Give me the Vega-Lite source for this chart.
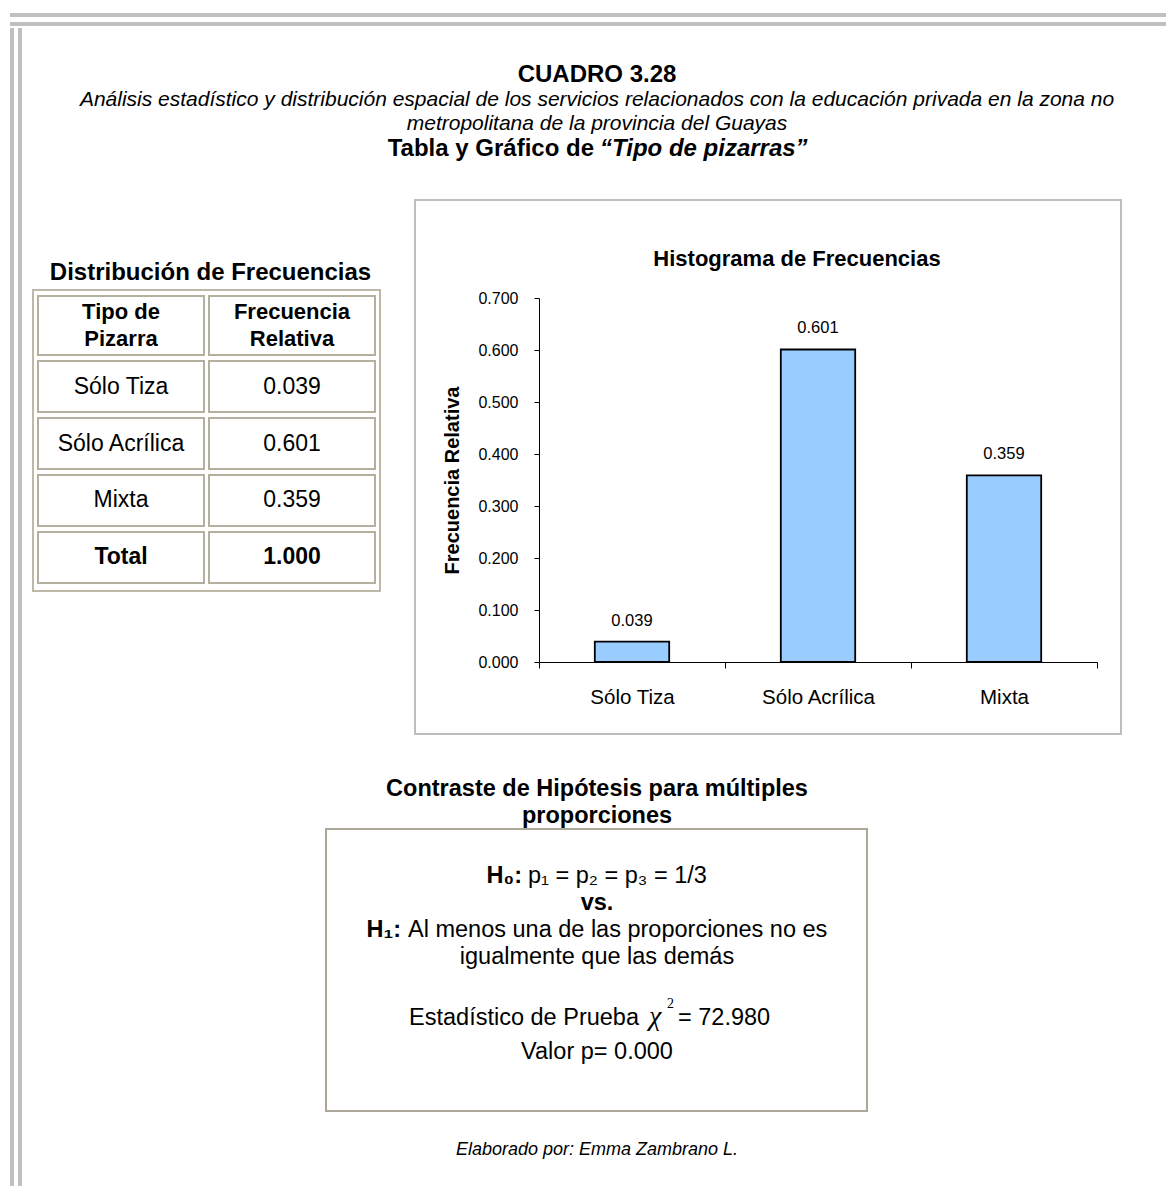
{
  "$schema": "https://vega.github.io/schema/vega-lite/v6.json",
  "padding": {"left": 8, "top": 13, "right": 0, "bottom": 0},
  "background": "white",
  "config": {
    "font": "Liberation Sans",
    "view": {"stroke": null},
    "text": {"color": "#000000"},
    "axis": {"labelFont": "Liberation Sans", "titleFont": "Liberation Sans"}
  },
  "datasets": {
    "tabla": [
      {"Tipo de Pizarra": "Sólo Tiza", "Frecuencia Relativa": 0.039},
      {"Tipo de Pizarra": "Sólo Acrílica", "Frecuencia Relativa": 0.601},
      {"Tipo de Pizarra": "Mixta", "Frecuencia Relativa": 0.359},
      {"Tipo de Pizarra": "Total", "Frecuencia Relativa": 1.0}
    ],
    "encabezado_tabla": [
      {"columna": "Tipo de Pizarra", "lineas": ["Tipo de", "Pizarra"]},
      {"columna": "Frecuencia Relativa", "lineas": ["Frecuencia", "Relativa"]}
    ],
    "marco": [{"linea": "exterior"}, {"linea": "interior"}]
  },
  "spacing": 0,
  "bounds": "full",
  "align": "each",
  "vconcat": [
    {
      "width": 1158,
      "height": 13,
      "data": {"name": "marco"},
      "mark": {"type": "rule", "color": "#C0C0C0", "strokeWidth": 4},
      "encoding": {
        "y": {"field": "linea", "type": "nominal", "scale": {"type": "point", "domain": ["exterior", "interior"], "range": [2, 11], "padding": 0}, "axis": null}
      }
    },
    {
      "spacing": 10,
      "bounds": "full",
      "align": "each",
      "hconcat": [
        {
          "width": 12,
          "height": 1160,
          "data": {"name": "marco"},
          "mark": {"type": "rule", "color": "#C0C0C0", "strokeWidth": 4},
          "encoding": {
            "x": {"field": "linea", "type": "nominal", "scale": {"type": "point", "domain": ["exterior", "interior"], "range": [2, 10], "padding": 0}, "axis": null}
          }
        },
        {
          "spacing": 0,
          "bounds": "full",
          "align": "each",
          "vconcat": [
            {
              "width": 1128,
              "height": 171,
              "encoding": {
                "y": {"field": "linea", "type": "nominal", "scale": {"type": "point", "domain": ["cuadro", "_1", "_2", "_3", "_4", "_5", "_6", "_7", "_8", "_9", "sub1", "_11", "_12", "_13", "_14", "_15", "_16", "_17", "_18", "_19", "sub2", "_21", "_22", "_23", "_24", "_25", "_26", "_27", "_28", "_29", "_30", "tabla"], "range": [53.5, 128], "padding": 0}, "axis": null},
                "text": {"field": "texto"}
              },
              "layer": [
                {
                  "data": {"values": [{"linea": "cuadro", "texto": "CUADRO 3.28"}]},
                  "mark": {"type": "text", "fontSize": 24, "fontWeight": "bold", "baseline": "alphabetic"}
                },
                {
                  "data": {"values": [
                    {"linea": "sub1", "texto": "Análisis estadístico y distribución espacial de los servicios relacionados con la educación privada en la zona no"},
                    {"linea": "sub2", "texto": "metropolitana de la provincia del Guayas"}
                  ]},
                  "mark": {"type": "text", "fontSize": 21, "fontStyle": "italic", "baseline": "alphabetic"}
                },
                {
                  "data": {"values": [{"linea": "tabla", "texto": "Tabla y Gráfico de"}]},
                  "mark": {"type": "text", "fontSize": 24, "fontWeight": "bold", "baseline": "alphabetic", "align": "right", "dx": -3}
                },
                {
                  "data": {"values": [{"linea": "tabla", "texto": "“Tipo de pizarras”"}]},
                  "mark": {"type": "text", "fontSize": 24, "fontWeight": "bold", "fontStyle": "italic", "baseline": "alphabetic", "align": "left", "dx": 3}
                }
              ]
            },
            {
              "spacing": 33,
              "bounds": "full",
              "align": "each",
              "hconcat": [
                {
                  "spacing": 0,
                  "bounds": "flush",
                  "align": "each",
                  "vconcat": [
                    {
                      "width": 347,
                      "height": 90,
                      "data": {"values": [{"titulo": "Distribución de Frecuencias"}]},
                      "mark": {"type": "text", "fontSize": 24, "fontWeight": "bold", "baseline": "alphabetic", "dx": 4},
                      "encoding": {
                        "y": {"field": "titulo", "type": "nominal", "scale": {"type": "point", "range": [80, 80], "padding": 0}, "axis": null},
                        "text": {"field": "titulo"}
                      }
                    },
                    {
                      "width": 347,
                      "height": 301,
                      "view": {"stroke": "#BDB9A9", "strokeWidth": 2},
                      "resolve": {"scale": {"y": "independent"}},
                      "layer": [
                        {
                          "data": {"name": "encabezado_tabla"},
                          "encoding": {
                            "x": {"field": "columna", "type": "nominal", "scale": {"type": "band", "domain": ["Tipo de Pizarra", "Frecuencia Relativa"], "paddingInner": 0.0292, "paddingOuter": 0.0292}, "axis": null},
                            "y": {"datum": "Encabezado", "type": "nominal", "scale": {"type": "band", "domain": ["Encabezado"], "range": [6, 65], "paddingInner": 0, "paddingOuter": 0}, "axis": null}
                          },
                          "layer": [
                            {"mark": {"type": "rect", "fill": "white", "stroke": "#B4B0A0", "strokeWidth": 2}},
                            {
                              "mark": {"type": "text", "fontSize": 22, "fontWeight": "bold", "lineHeight": 27, "baseline": "middle", "dy": -13.5},
                              "encoding": {"text": {"field": "lineas"}}
                            }
                          ]
                        },
                        {
                          "encoding": {
                            "y": {"field": "Tipo de Pizarra", "type": "nominal", "scale": {"type": "band", "domain": ["Sólo Tiza", "Sólo Acrílica", "Mixta", "Total"], "range": [71, 293], "paddingInner": 0.105, "paddingOuter": 0}, "axis": null}
                          },
                          "layer": [
                            {
                              "data": {"name": "tabla"},
                              "transform": [{"fold": ["Tipo de Pizarra", "Frecuencia Relativa"], "as": ["columna", "valor"]}],
                              "mark": {"type": "rect", "fill": "white", "stroke": "#B4B0A0", "strokeWidth": 2},
                              "encoding": {"x": {"field": "columna", "type": "nominal"}}
                            },
                            {
                              "data": {"name": "tabla"},
                              "transform": [{"filter": "datum['Tipo de Pizarra'] !== 'Total'"}],
                              "mark": {"type": "text", "fontSize": 23, "baseline": "middle"},
                              "encoding": {
                                "x": {"datum": "Tipo de Pizarra", "type": "nominal"},
                                "text": {"field": "Tipo de Pizarra"}
                              }
                            },
                            {
                              "data": {"name": "tabla"},
                              "transform": [{"filter": "datum['Tipo de Pizarra'] !== 'Total'"}],
                              "mark": {"type": "text", "fontSize": 23, "baseline": "middle"},
                              "encoding": {
                                "x": {"datum": "Frecuencia Relativa", "type": "nominal"},
                                "text": {"field": "Frecuencia Relativa", "type": "quantitative", "format": ".3f"}
                              }
                            },
                            {
                              "data": {"name": "tabla"},
                              "transform": [{"filter": "datum['Tipo de Pizarra'] === 'Total'"}],
                              "mark": {"type": "text", "fontSize": 23, "fontWeight": "bold", "baseline": "middle"},
                              "encoding": {
                                "x": {"datum": "Tipo de Pizarra", "type": "nominal"},
                                "text": {"field": "Tipo de Pizarra"}
                              }
                            },
                            {
                              "data": {"name": "tabla"},
                              "transform": [{"filter": "datum['Tipo de Pizarra'] === 'Total'"}],
                              "mark": {"type": "text", "fontSize": 23, "fontWeight": "bold", "baseline": "middle"},
                              "encoding": {
                                "x": {"datum": "Frecuencia Relativa", "type": "nominal"},
                                "text": {"field": "Frecuencia Relativa", "type": "quantitative", "format": ".3f"}
                              }
                            }
                          ]
                        }
                      ]
                    }
                  ]
                },
                {
                  "width": 706,
                  "height": 534,
                  "view": {"stroke": "#BEBEBE", "strokeWidth": 2},
                  "layer": [
                    {
                      "data": {"name": "tabla"},
                      "transform": [{"filter": "datum['Tipo de Pizarra'] !== 'Total'"}],
                      "mark": {"type": "bar", "width": {"band": 0.4}, "fill": "#99CCFF", "stroke": "#000000", "strokeWidth": 1.8},
                      "encoding": {
                        "x": {
                          "field": "Tipo de Pizarra", "type": "nominal",
                          "scale": {"type": "band", "domain": ["Sólo Tiza", "Sólo Acrílica", "Mixta"], "range": [124, 682], "paddingInner": 0, "paddingOuter": 0},
                          "axis": {"orient": "bottom", "offset": -72, "tickBand": "extent", "domainColor": "#000000", "tickColor": "#000000", "tickSize": 6, "labelFontSize": 20.5, "labelColor": "#000000", "labelPadding": 19, "labelAngle": 0, "title": null}
                        },
                        "y": {
                          "field": "Frecuencia Relativa", "type": "quantitative",
                          "scale": {"domain": [0, 0.7], "range": [462, 98], "nice": false, "zero": true},
                          "axis": {"values": [0, 0.1, 0.2, 0.3, 0.4, 0.5, 0.6, 0.7], "format": ".3f", "offset": -124, "grid": false, "domainColor": "#000000", "tickColor": "#000000", "tickSize": 5, "labelFontSize": 16, "labelColor": "#000000", "labelPadding": 16, "title": "Frecuencia Relativa", "titleFontSize": 20, "titleFontWeight": "bold", "titleColor": "#000000", "titlePadding": 15}
                        }
                      }
                    },
                    {
                      "data": {"name": "tabla"},
                      "transform": [{"filter": "datum['Tipo de Pizarra'] !== 'Total'"}],
                      "mark": {"type": "text", "baseline": "middle", "dy": -21, "fontSize": 16.5},
                      "encoding": {
                        "x": {"field": "Tipo de Pizarra", "type": "nominal"},
                        "y": {"field": "Frecuencia Relativa", "type": "quantitative"},
                        "text": {"field": "Frecuencia Relativa", "type": "quantitative", "format": ".3f"}
                      }
                    },
                    {
                      "data": {"values": [{"titulo": "Histograma de Frecuencias"}]},
                      "mark": {"type": "text", "fontSize": 22, "fontWeight": "bold", "baseline": "alphabetic", "dx": 29},
                      "encoding": {
                        "y": {"datum": 0.7615, "type": "quantitative"},
                        "text": {"field": "titulo"}
                      }
                    }
                  ]
                }
              ]
            },
            {
              "width": 1128,
              "height": 377,
              "resolve": {"scale": {"x": "independent", "y": "independent"}},
              "layer": [
                {
                  "data": {"values": [{"recuadro": "Contraste"}]},
                  "mark": {"type": "rect", "fill": "white", "stroke": "#ACA899", "strokeWidth": 2},
                  "encoding": {
                    "x": {"field": "recuadro", "type": "nominal", "scale": {"type": "band", "range": [293, 834], "paddingInner": 0, "paddingOuter": 0}, "axis": null},
                    "y": {"field": "recuadro", "type": "nominal", "scale": {"type": "band", "range": [94, 376], "paddingInner": 0, "paddingOuter": 0}, "axis": null}
                  }
                },
                {
                  "encoding": {
                    "y": {"field": "renglon", "type": "nominal", "scale": {"type": "point", "domain": ["titulo1", "_1", "_2", "_3", "titulo2", "_5", "_6", "_7", "_8", "_9", "_10", "_11", "_12", "h0", "_14", "_15", "_16", "vs", "_18", "_19", "_20", "h1", "_22", "_23", "_24", "igual", "_26", "_27", "_28", "_29", "_30", "_31", "_32", "_33", "estadistico", "_35", "_36", "_37", "_38", "valor"], "range": [60.5, 323.75], "padding": 0}, "axis": null},
                    "text": {"field": "texto"}
                  },
                  "layer": [
                    {
                      "data": {"values": [
                        {"renglon": "titulo1", "texto": "Contraste de Hipótesis para múltiples"},
                        {"renglon": "titulo2", "texto": "proporciones"}
                      ]},
                      "mark": {"type": "text", "fontSize": 23.5, "fontWeight": "bold", "baseline": "alphabetic"}
                    },
                    {
                      "data": {"values": [{"renglon": "h0", "texto": "H₀:"}]},
                      "mark": {"type": "text", "fontSize": 23.5, "fontWeight": "bold", "baseline": "alphabetic", "align": "right", "dx": -75}
                    },
                    {
                      "data": {"values": [{"renglon": "h0", "texto": "p₁ = p₂ =  p₃ = 1/3"}]},
                      "mark": {"type": "text", "fontSize": 23.5, "baseline": "alphabetic", "align": "left", "dx": -69}
                    },
                    {
                      "data": {"values": [{"renglon": "vs", "texto": "vs."}]},
                      "mark": {"type": "text", "fontSize": 23.5, "fontWeight": "bold", "baseline": "alphabetic"}
                    },
                    {
                      "data": {"values": [{"renglon": "h1", "texto": "H₁:"}]},
                      "mark": {"type": "text", "fontSize": 23.5, "fontWeight": "bold", "baseline": "alphabetic", "align": "right", "dx": -196}
                    },
                    {
                      "data": {"values": [{"renglon": "h1", "texto": "Al menos una de las proporciones no es"}]},
                      "mark": {"type": "text", "fontSize": 23.5, "baseline": "alphabetic", "align": "left", "dx": -189}
                    },
                    {
                      "data": {"values": [{"renglon": "igual", "texto": "igualmente que las demás"}]},
                      "mark": {"type": "text", "fontSize": 23.5, "baseline": "alphabetic"}
                    },
                    {
                      "data": {"values": [{"renglon": "estadistico", "texto": "Estadístico de Prueba"}]},
                      "mark": {"type": "text", "fontSize": 23.5, "baseline": "alphabetic", "align": "right", "dx": 42}
                    },
                    {
                      "data": {"values": [{"renglon": "estadistico", "texto": "χ"}]},
                      "mark": {"type": "text", "font": "Liberation Serif", "fontSize": 28, "fontStyle": "italic", "baseline": "alphabetic", "align": "left", "dx": 52}
                    },
                    {
                      "data": {"values": [{"renglon": "estadistico", "texto": "2"}]},
                      "mark": {"type": "text", "font": "Liberation Serif", "fontSize": 14, "baseline": "alphabetic", "align": "left", "dx": 70, "dy": -17}
                    },
                    {
                      "data": {"values": [{"renglon": "estadistico", "texto": "= 72.980"}]},
                      "mark": {"type": "text", "fontSize": 23.5, "baseline": "alphabetic", "align": "left", "dx": 81}
                    },
                    {
                      "data": {"values": [{"renglon": "valor", "texto": "Valor p= 0.000"}]},
                      "mark": {"type": "text", "fontSize": 23.5, "baseline": "alphabetic"}
                    }
                  ]
                }
              ]
            },
            {
              "width": 1128,
              "height": 76,
              "data": {"values": [{"autor": "Elaborado por: Emma Zambrano L."}]},
              "mark": {"type": "text", "fontSize": 18, "fontStyle": "italic", "baseline": "middle"},
              "encoding": {"text": {"field": "autor"}}
            }
          ]
        }
      ]
    }
  ]
}
